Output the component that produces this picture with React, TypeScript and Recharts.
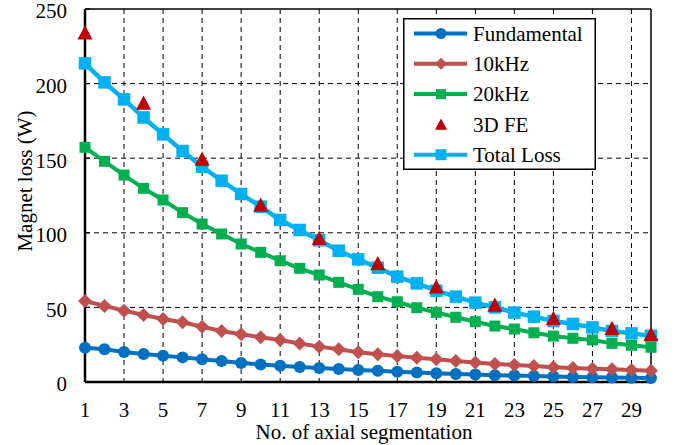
import { CartesianGrid, Label, Line, LineChart, ReferenceLine, XAxis, YAxis } from "recharts";

const segments = [1, 2, 3, 4, 5, 6, 7, 8, 9, 10, 11, 12, 13, 14, 15, 16, 17, 18, 19, 20, 21, 22, 23, 24, 25, 26, 27, 28, 29, 30];
const fundamental = [23, 21.9, 20.1, 18.8, 17.6, 16.5, 15.2, 14.1, 12.8, 11.8, 10.9, 10.1, 9.4, 8.7, 8.1, 7.5, 6.9, 6.4, 5.8, 5.4, 5.0, 4.6, 4.3, 4.0, 3.7, 3.4, 3.2, 3.0, 2.8, 2.6];
const tenKHz = [54.3, 51, 47.8, 44.9, 42.2, 40, 37, 34.2, 32, 30, 28.2, 25.8, 23.7, 21.9, 19.9, 18.6, 17.4, 16.3, 15.2, 14.1, 13, 12.1, 11.4, 10.7, 9.9, 9.4, 8.9, 8.5, 8, 7.6];
const twentyKHz = [157.3, 147.9, 138.7, 129.8, 122, 113.5, 105.9, 99.2, 92.5, 86.9, 81.3, 76.2, 71.7, 66.8, 62.1, 57.2, 53.8, 49.8, 46.7, 43.4, 40.4, 37.5, 35.5, 33, 30.8, 29.3, 28.2, 25.9, 24.6, 23.3];
const totalLoss = [213.6, 200.8, 189.4, 177.3, 166, 154.8, 144.3, 134.9, 126, 117.5, 108.6, 101.9, 95, 88, 82.2, 76.6, 70.6, 66.1, 61.2, 57.2, 53.2, 50, 46.5, 43.8, 40.9, 38.9, 36.6, 34.2, 32.6, 31];
const feSegments = [1, 4, 7, 10, 13, 16, 19, 22, 25, 28, 30];
const feValues = [234, 187, 149.5, 118.6, 96.3, 79.5, 63.9, 51.6, 42.7, 36, 32];

const xTicks = [1, 3, 5, 7, 9, 11, 13, 15, 17, 19, 21, 23, 25, 27, 29];
const yTicks = [0, 50, 100, 150, 200, 250];

const FONT = "'Liberation Serif', 'Times New Roman', Times, serif";
const FS = 21;

const COLORS = {
  fundamental: "#0070C0",
  tenKHz: "#C0504D",
  twentyKHz: "#00B050",
  fe: "#C00000",
  total: "#00B0F0",
};

const data = segments.map((s, i) => {
  const feIdx = feSegments.indexOf(s);
  return {
    seg: s,
    fundamental: fundamental[i],
    tenKHz: tenKHz[i],
    twentyKHz: twentyKHz[i],
    total: totalLoss[i],
    fe: feIdx >= 0 ? feValues[feIdx] : null,
  };
});

type Shape = "circle" | "diamond" | "square" | "triangle";

function Marker({ shape, cx, cy, color, size }: { shape: Shape; cx: number; cy: number; color: string; size: number }) {
  const h = size / 2;
  if (shape === "circle") return <circle cx={cx} cy={cy} r={h} fill={color} />;
  if (shape === "square") return <rect x={cx - h} y={cy - h} width={size} height={size} fill={color} />;
  if (shape === "diamond")
    return <polygon points={`${cx},${cy - h} ${cx + h},${cy} ${cx},${cy + h} ${cx - h},${cy}`} fill={color} />;
  return <polygon points={`${cx},${cy - h} ${cx + h},${cy + h * 0.9} ${cx - h},${cy + h * 0.9}`} fill={color} />;
}

function makeDot(shape: Shape, color: string, size: number) {
  return (props: any) => {
    const { cx, cy, index, value } = props;
    if (value == null || cx == null || cy == null || Number.isNaN(cy)) return <g key={`e-${index}`} />;
    return (
      <g key={`${shape}-${index}`}>
        <Marker shape={shape} cx={cx} cy={cy} color={color} size={size} />
      </g>
    );
  };
}

const legendItems: { label: string; color: string; shape: Shape; line: boolean; size: number }[] = [
  { label: "Fundamental", color: COLORS.fundamental, shape: "circle", line: true, size: 11 },
  { label: "10kHz", color: COLORS.tenKHz, shape: "diamond", line: true, size: 12 },
  { label: "20kHz", color: COLORS.twentyKHz, shape: "square", line: true, size: 10 },
  { label: "3D FE", color: COLORS.fe, shape: "triangle", line: false, size: 12 },
  { label: "Total Loss", color: COLORS.total, shape: "square", line: true, size: 11 },
];

function LegendBox() {
  return (
    <svg width={193} height={152} style={{ display: "block", position: "absolute", left: 403, top: 18 }}>
      <rect x={0.75} y={0.75} width={191.5} height={150.5} fill="#fff" stroke="#000" strokeWidth={1.5} />
      {legendItems.map((item, i) => {
        const cy = 15.5 + i * 30.3;
        return (
          <g key={item.label}>
            {item.line && <line x1={11} x2={64} y1={cy} y2={cy} stroke={item.color} strokeWidth={4} />}
            <Marker shape={item.shape} cx={38} cy={cy} color={item.color} size={item.size} />
            <text x={70} y={cy} dy="0.35em" style={{ fontSize: FS, fontFamily: FONT }} fill="#000">
              {item.label}
            </text>
          </g>
        );
      })}
    </svg>
  );
}

const tickStyle = { fill: "#000", fontSize: FS, fontFamily: FONT };

function YTick(props: any) {
  const { x, y, payload } = props;
  return (
    <g>
      <line x1={x + 18} x2={x + 23} y1={y} y2={y} stroke="#000" strokeWidth={1.2} />
      <text x={x} y={y + 2} dy="0.35em" textAnchor="end" fill="#000" style={{ fontSize: FS, fontFamily: FONT }}>
        {payload.value}
      </text>
    </g>
  );
}

export default function App() {
  return (
    <div style={{ width: 683, height: 445, position: "absolute", left: 0, top: 0, background: "#fff", fontFamily: FONT }}>
      <LineChart width={683} height={445} data={data} margin={{ top: 9, right: 32, bottom: 0, left: 25 }} style={{ fontFamily: FONT }}>
        <CartesianGrid stroke="#000" strokeDasharray="5 4" strokeWidth={1} horizontalValues={[50, 100, 150, 200]} verticalValues={xTicks} />
        <XAxis
          dataKey="seg"
          type="number"
          domain={[1, 30]}
          ticks={xTicks}
          interval={0}
          height={63}
          tickSize={0}
          tickMargin={20}
          axisLine={{ stroke: "#000", strokeWidth: 2.5 }}
          tick={tickStyle}
        >
          <Label
            content={() => (
              <text x={364} y={439} textAnchor="middle" fill="#000" style={{ fontSize: FS, fontFamily: FONT }}>
                No. of axial segmentation
              </text>
            )}
          />
        </XAxis>
        <YAxis
          type="number"
          domain={[0, 250]}
          ticks={yTicks}
          width={60}
          tickSize={0}
          tickMargin={18}
          axisLine={{ stroke: "#000", strokeWidth: 2.5 }}
          tick={<YTick />}
        >
          <Label
            content={() => (
              <text x={32} y={181} transform="rotate(-90 32 181)" textAnchor="middle" fill="#000" style={{ fontSize: FS, fontFamily: FONT }}>
                Magnet loss (W)
              </text>
            )}
          />
        </YAxis>
        <ReferenceLine y={250} stroke="#000" strokeWidth={1.5} />
        <ReferenceLine x={30} stroke="#000" strokeWidth={1.5} />
        <Line dataKey="fundamental" stroke={COLORS.fundamental} strokeWidth={4} dot={makeDot("circle", COLORS.fundamental, 12)} activeDot={false} isAnimationActive={false} />
        <Line dataKey="tenKHz" stroke={COLORS.tenKHz} strokeWidth={4} dot={makeDot("diamond", COLORS.tenKHz, 14)} activeDot={false} isAnimationActive={false} />
        <Line dataKey="twentyKHz" stroke={COLORS.twentyKHz} strokeWidth={4} dot={makeDot("square", COLORS.twentyKHz, 11)} activeDot={false} isAnimationActive={false} />
        <Line dataKey="total" stroke={COLORS.total} strokeWidth={4.5} dot={makeDot("square", COLORS.total, 12.5)} activeDot={false} isAnimationActive={false} />
        <Line dataKey="fe" stroke="none" strokeWidth={0} connectNulls={false} dot={makeDot("triangle", COLORS.fe, 15)} activeDot={false} isAnimationActive={false} />
      </LineChart>
      <LegendBox />
    </div>
  );
}
